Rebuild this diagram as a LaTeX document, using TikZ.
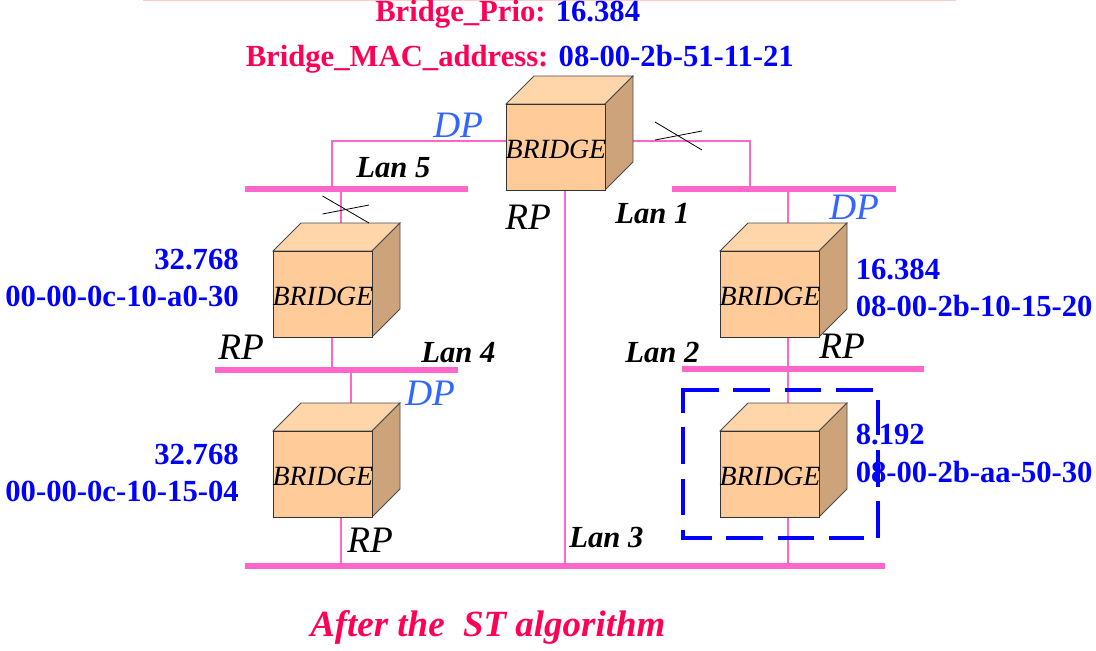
\documentclass[tikz,border=0pt]{standalone}
\usepackage{fontspec}
\setmainfont{Liberation Serif}
\definecolor{lanpink}{HTML}{FF66CC}
\definecolor{redpink}{HTML}{FF0055}
\definecolor{dpblue}{HTML}{3366FF}
\definecolor{cubefront}{HTML}{FFCC99}
\definecolor{cubetop}{HTML}{FFD5AA}
\definecolor{cubeside}{HTML}{CCA37A}
\definecolor{paleline}{HTML}{FFCCCC}
\newcommand{\fsz}[1]{\fontsize{#1}{#1}\selectfont}
\tikzset{
  wire/.style={draw=lanpink,line width=1.8pt},
  lanbar/.style={fill=lanpink,draw=none,inner sep=0pt,minimum height=3.9pt},
  front/.style={draw=black!80,line width=0.7pt,fill=cubefront,inner sep=0pt,minimum width=74.25pt,minimum height=64.5pt,font=\fsz{20.9}\itshape,text=black},
  lanlabel/.style={anchor=base west,inner sep=0pt,font=\fsz{23}\bfseries\itshape,text=black},
  portrp/.style={anchor=base west,inner sep=0pt,font=\fsz{28}\itshape,text=black},
  portdp/.style={anchor=base west,inner sep=0pt,font=\fsz{28}\itshape,text=dpblue},
  addrl/.style={anchor=base east,inner sep=0pt,font=\fsz{23}\bfseries,text=blue},
  addrr/.style={anchor=base west,inner sep=0pt,font=\fsz{23}\bfseries,text=blue},
  cross/.style={draw=black,line width=0.6pt},
  rootbox/.style={draw=blue,line width=3.6pt,dash pattern=on 27.5pt off 11pt},
}
\newcommand{\cube}[3]{%
  \path[fill=cubetop,draw=black!70,line width=0.6pt] (#2,#3) -- ++(28,-28) -- ++(99,0) -- ++(-28,28) -- cycle;
  \path[fill=cubeside,draw=black!70,line width=0.6pt] (#2+99,#3) -- ++(28,-28) -- ++(0,86) -- ++(-28,28) -- cycle;
  \node[front,anchor=north west] (#1) at (#2,#3) {\raisebox{-8.25pt}[0pt][0pt]{\makebox[0pt]{BRIDGE}}};
}
\begin{document}
\begin{tikzpicture}[x=0.75pt,y=-0.75pt]
\useasboundingbox (0,0) rectangle (1096,650);
\draw[draw=paleline,line width=1pt] (143,0.5) -- (956,0.5);

% LAN bars
\node[lanbar,minimum width=167pt,anchor=west] (lan5) at (245,189) {};
\node[lanbar,minimum width=167.5pt,anchor=west] (lan1) at (672,189) {};
\node[lanbar,minimum width=182pt,anchor=west] (lan4) at (215,370) {};
\node[lanbar,minimum width=181.5pt,anchor=west] (lan2) at (682,369) {};
\node[lanbar,minimum width=480pt,anchor=west] (lan3) at (245,566) {};

% Wires behind cubes
\coordinate (m) at (565,141);
\coordinate (w5) at (332,141);
\coordinate (e1) at (750,141);
\draw[wire] (m) -- (w5) -- (w5 |- lan5.center);
\draw[wire] (m) -- (e1) -- (e1 |- lan1.center);
\draw[wire] (m) -- (m |- lan3.center);
\coordinate (a) at (341,230);
\coordinate (b) at (788,230);
\coordinate (c) at (332,300);
\coordinate (d) at (351,420);
\coordinate (e) at (341,500);
\coordinate (f) at (788,500);
\coordinate (g) at (788,420);
\coordinate (h) at (788,300);
\draw[wire] (a) -- (a |- lan5.center);
\draw[wire] (b) -- (b |- lan1.center);
\draw[wire] (c) -- (c |- lan4.center);
\draw[wire] (d) -- (d |- lan4.center);
\draw[wire] (e) -- (e |- lan3.center);
\draw[wire] (f) -- (f |- lan3.center);
\draw[wire] (g) -- (g |- lan2.center);
\draw[wire] (h) -- (h |- lan2.center);

% Cubes
\cube{root}{506}{104}
\cube{bl}{273}{251}
\cube{br}{720}{251}
\cube{cl}{273}{431}
\cube{cr}{720}{431}

% Crosses
\coordinate (x1a) at (322.5,196); \coordinate (x1b) at (369,223);
\coordinate (x1c) at (322.5,214); \coordinate (x1d) at (369,205);
\draw[cross] (x1a) -- (x1b);
\draw[cross] (x1c) -- (x1d);
\coordinate (x2a) at (655,122); \coordinate (x2b) at (702,150);
\coordinate (x2c) at (655,140); \coordinate (x2d) at (702,131);
\draw[cross] (x2a) -- (x2b);
\draw[cross] (x2c) -- (x2d);

% Header
\node[anchor=base west,inner sep=0pt,font=\fsz{23}\bfseries] (t1) at (375,21.3) {\textcolor{redpink}{Bridge\_Prio:} \textcolor{blue}{16.384}};
\node[anchor=base west,inner sep=0pt,font=\fsz{23}\bfseries] (t2) at (245.5,66) {\textcolor{redpink}{Bridge\_MAC\_address:} \textcolor{blue}{08-00-2b-51-11-21}};
\node[anchor=base west,inner sep=0pt,font=\fsz{27.7}\bfseries\itshape,text=redpink] (t3) at (310,636) {After the\ \ ST algorithm};

% LAN labels
\node[lanlabel] (l5) at (356,177) {Lan 5};
\node[lanlabel] (l1) at (615,223) {Lan 1};
\node[lanlabel] (l4) at (421,362) {Lan 4};
\node[lanlabel] (l2) at (625,362) {Lan 2};
\node[lanlabel] (l3) at (569,547) {Lan 3};

% Port labels
\node[portrp] (r1) at (505,229) {RP};
\node[portrp] (r2) at (218,359) {RP};
\node[portrp] (r3) at (819,358) {RP};
\node[portrp] (r4) at (347,552) {RP};
\node[portdp] (d1) at (433,137) {DP};
\node[portdp] (d2) at (829,219) {DP};
\node[portdp] (d3) at (405,405) {DP};

% Addresses
\node[addrl] (p1) at (239,269) {32.768};
\node[addrl] (q1) at (239,306) {00-00-0c-10-a0-30};
\node[addrl] (p2) at (239,464) {32.768};
\node[addrl] (q2) at (239,501) {00-00-0c-10-15-04};
\node[addrr] (p3) at (855.5,279) {16.384};
\node[addrr] (q3) at (855.5,316) {08-00-2b-10-15-20};
\node[addrr] (p4) at (855.5,444) {8.192};
\node[addrr] (q4) at (855.5,482) {08-00-2b-aa-50-30};

% Dashed box
\coordinate (bxa) at (682,390);
\coordinate (bxb) at (873,390);
\coordinate (bxc) at (878,538);
\coordinate (bxd) at (878,400);
\coordinate (bxe) at (682,538);
\coordinate (bxf) at (864,538);
\coordinate (bxg) at (683,388);
\coordinate (bxh) at (683,540);
\draw[rootbox] (bxa) -- (bxb);
\draw[rootbox] (bxc) -- (bxd);
\draw[rootbox,dash phase=5.25pt] (bxe) -- (bxf);
\draw[rootbox,dash phase=9pt] (bxg) -- (bxh);
\end{tikzpicture}
\end{document}
